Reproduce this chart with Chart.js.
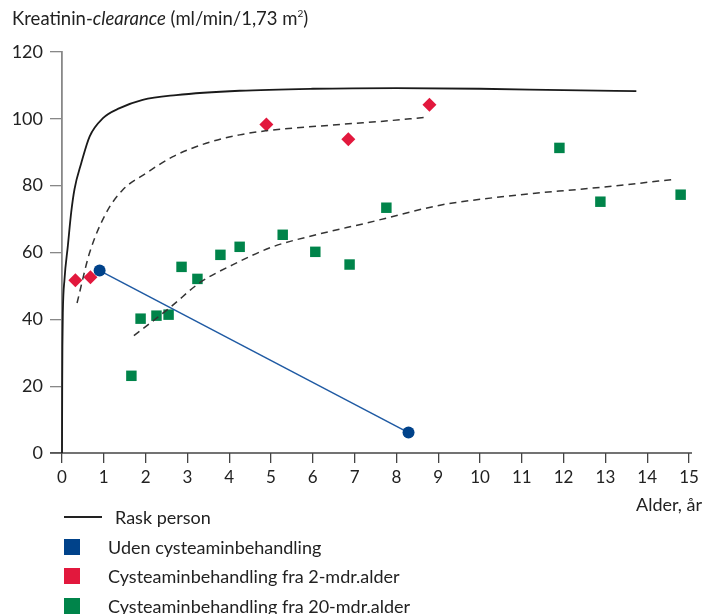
<!DOCTYPE html>
<html>
<head>
<meta charset="utf-8">
<script src="https://cdn.jsdelivr.net/npm/chart.js@4"></script>
<style>
  body { margin: 0; background: #fff; }
  #wrap { position: relative; width: 703px; height: 614px; font-family: "Lato", sans-serif; color: #222; }
  #chart { position: absolute; left: 0; top: 0; }
  #ytitle { position: absolute; left: 12px; top: 7px; font-size: 18.5px; white-space: nowrap; }
  #ytitle sup { font-size: 10px; vertical-align: 8px; }
  #xtitle { position: absolute; right: 1px; top: 493px; font-size: 18px; }
  #legend { position: absolute; left: 64px; top: 505px; font-size: 18px; }
  .row { position: relative; height: 29.5px; line-height: 24px; }
  .sym { position: absolute; left: 0; }
  .txt { position: absolute; left: 44px; white-space: nowrap; }
</style>
</head>
<body>
<div id="wrap">
  <canvas id="chart" width="703" height="614"></canvas>
  <div id="ytitle">Kreatinin-<i>clearance</i> (ml/min/1,73 m<sup>2</sup>)</div>
  <div id="xtitle">Alder, år</div>
  <div id="legend"></div>
</div>
<script>
// axis ticks
const xTicks = [0, 1, 2, 3, 4, 5, 6, 7, 8, 9, 10, 11, 12, 13, 14, 15];
const yTicks = [0, 20, 40, 60, 80, 100, 120];

// healthy person curve
const raskAge = [0, 0.005, 0.01, 0.02, 0.06, 0.14, 0.22, 0.3, 0.46, 0.66, 0.98, 1.38, 1.93, 2.73, 4.25, 6, 8, 10, 12, 13.74];
const raskValue = [0, 20, 32, 42, 52, 62, 72, 79, 86.7, 94.7, 100.2, 103.2, 105.7, 107.1, 108.4, 109, 109.2, 109, 108.6, 108.3];

// without cysteamine
const udenAge = [0.9, 8.29];
const udenValue = [54.6, 6.1];

// cysteamine from 2 months
const tidligAge = [0.32, 0.68, 4.89, 6.85, 8.79];
const tidligValue = [51.7, 52.6, 98.3, 93.9, 104.2];
const tidligFitAge = [0.36, 0.66, 1.06, 1.45, 2.01, 2.64, 3.45, 4.25, 4.87, 6.85, 7.6, 8.66];
const tidligFitValue = [44.9, 59.9, 71.9, 78.7, 83.7, 88.6, 92.7, 95.2, 96.4, 98.5, 99.2, 100.4];

// cysteamine from 20 months
const senAge = [1.66, 1.88, 2.26, 2.55, 2.86, 3.24, 3.79, 4.25, 5.28, 6.06, 6.88, 7.76, 11.9, 12.88, 14.8];
const senValue = [23.1, 40.2, 41.1, 41.4, 55.7, 52.1, 59.3, 61.7, 65.3, 60.2, 56.4, 73.4, 91.3, 75.2, 77.3];
const senFitAge = [1.72, 2.61, 3.29, 4.08, 5.04, 6.08, 7.28, 9.1, 10.0, 11.2, 12.38, 13.5, 14.65];
const senFitValue = [35.1, 43.8, 50.9, 56.3, 61.7, 65.3, 68.8, 74.3, 75.9, 77.6, 78.9, 80.3, 81.9];

const legendLabels = ["Rask person", "Uden cysteaminbehandling", "Cysteaminbehandling fra 2-mdr.alder", "Cysteaminbehandling fra 20-mdr.alder"];
const legendColors = ["#222222", "#00428a", "#e2183d", "#00844a"];

function toPoints(xs, ys) {
  return xs.map((x, i) => ({ x: x, y: ys[i] }));
}

// x-axis line runs a bit past the y axis, like the original
const axisLine = {
  id: "axisLine",
  beforeDatasetsDraw(chart) {
    const { ctx, chartArea } = chart;
    ctx.save();
    ctx.strokeStyle = "#444";
    ctx.lineWidth = 1.3;
    ctx.beginPath();
    ctx.moveTo(chartArea.left - 12, chartArea.bottom);
    ctx.lineTo(chartArea.right + 3, chartArea.bottom);
    ctx.stroke();
    ctx.restore();
  },
};

Chart.defaults.font.family = "Lato";
Chart.defaults.color = "#222";

let config = {
  type: "scatter",
  data: {
    datasets: [
      {
        label: legendLabels[0],
        data: toPoints(raskAge, raskValue),
        showLine: true,
        borderColor: "#1a1a1a",
        borderWidth: 1.8,
        pointRadius: 0,
        cubicInterpolationMode: "monotone",
      },
      {
        label: "fit 2 mdr",
        data: toPoints(tidligFitAge, tidligFitValue),
        showLine: true,
        borderColor: "#333",
        borderWidth: 1.5,
        borderDash: [7, 5],
        pointRadius: 0,
        cubicInterpolationMode: "monotone",
      },
      {
        label: "fit 20 mdr",
        data: toPoints(senFitAge, senFitValue),
        showLine: true,
        borderColor: "#333",
        borderWidth: 1.5,
        borderDash: [7, 5],
        pointRadius: 0,
        cubicInterpolationMode: "monotone",
      },
      {
        label: legendLabels[1],
        data: toPoints(udenAge, udenValue),
        showLine: true,
        borderColor: "#1f5aa3",
        borderWidth: 1.5,
        pointStyle: "circle",
        pointRadius: 6,
        pointBackgroundColor: legendColors[1],
        pointBorderWidth: 0,
      },
      {
        label: legendLabels[2],
        data: toPoints(tidligAge, tidligValue),
        pointStyle: "rectRot",
        pointRadius: 7,
        pointBackgroundColor: legendColors[2],
        pointBorderWidth: 0,
      },
      {
        label: legendLabels[3],
        data: toPoints(senAge, senValue),
        pointStyle: "rect",
        pointRadius: 7.4,
        pointBackgroundColor: legendColors[3],
        pointBorderWidth: 0,
      },
    ],
  },
  options: {
    responsive: false,
    animation: false,
    clip: false,
    layout: { padding: { top: 52, right: 14, left: 0, bottom: 0 } },
    plugins: {
      legend: { display: false },
      tooltip: { enabled: false },
    },
    scales: {
      x: {
        type: "linear",
        min: 0,
        max: 15,
        afterBuildTicks: (scale) => {
          scale.ticks = xTicks.map((v) => ({ value: v }));
        },
        afterFit: (scale) => {
          scale.height = 161;
        },
        border: { display: false },
        grid: { drawOnChartArea: false, drawTicks: true, tickLength: 10, color: "#444", lineWidth: 1.3 },
        ticks: { padding: 4, font: { size: 17 }, maxRotation: 0, autoSkip: false },
      },
      y: {
        min: 0,
        max: 120,
        afterBuildTicks: (scale) => {
          scale.ticks = yTicks.map((v) => ({ value: v }));
        },
        afterFit: (scale) => {
          scale.width = 62;
        },
        border: { display: true, color: "#888", width: 1.8 },
        grid: { drawOnChartArea: false, drawTicks: true, tickLength: 12, color: "#888", lineWidth: 1.3 },
        ticks: { padding: 7, font: { size: 18 } },
      },
    },
  },
  plugins: [axisLine],
};

var chart = new Chart(document.getElementById("chart"), config);

// legend in a single column under the plot
const legendBox = document.getElementById("legend");
legendLabels.forEach((label, i) => {
  const row = document.createElement("div");
  row.className = "row";
  const sym = document.createElement("div");
  sym.className = "sym";
  if (i === 0) {
    sym.style.cssText = "top:11px;width:38px;height:2px;background:" + legendColors[i];
  } else {
    sym.style.cssText = "top:4px;width:16px;height:16px;background:" + legendColors[i];
  }
  const txt = document.createElement("div");
  txt.className = "txt";
  txt.textContent = label;
  if (i === 0) txt.style.left = "51px";
  row.appendChild(sym);
  row.appendChild(txt);
  legendBox.appendChild(row);
});
</script>
</body>
</html>
